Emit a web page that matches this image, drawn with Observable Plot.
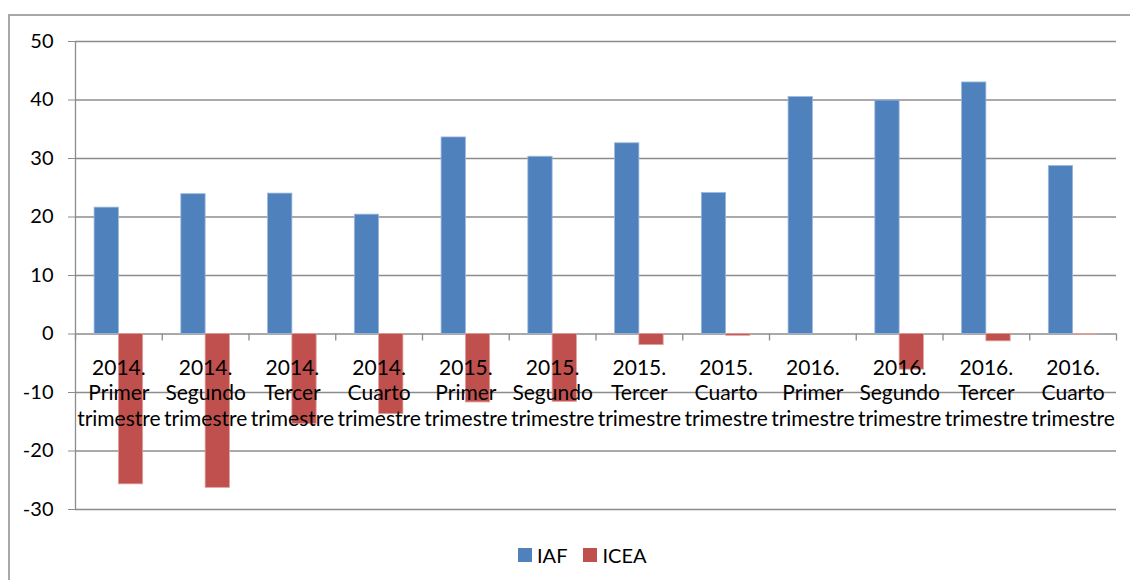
<!DOCTYPE html>
<html>
<head>
<meta charset="utf-8">
<script src="https://cdn.jsdelivr.net/npm/d3@7"></script>
<script src="https://cdn.jsdelivr.net/npm/@observablehq/plot@0.6"></script>
<style>
  body { margin: 0; background: #fff; }
  #wrap { position: relative; width: 1130px; height: 580px; overflow: hidden; font-family: Lato, "Open Sans", sans-serif; }
  #border { position: absolute; left: 8px; top: 14px; width: 1300px; height: 800px; border-top: 2px solid #a8a8a8; border-left: 2px solid #a8a8a8; }
  #chart { position: absolute; left: 0; top: 0; }
  #legend { position: absolute; left: 518px; top: 543px; display: flex; align-items: center; font-size: 20px; color: #000; line-height: 24px; }
  .sw { width: 14px; height: 14px; display: inline-block; margin-right: 5px; }
  .item { display: flex; align-items: center; margin-right: 16px; }
</style>
</head>
<body>
<div id="wrap">
  <div id="border"></div>
  <div id="chart"></div>
  <div id="legend"></div>
</div>
<script>
// ---- data ----
const years = ["2014", "2014", "2014", "2014", "2015", "2015", "2015", "2015", "2016", "2016", "2016", "2016"];
const quarters = ["Primer", "Segundo", "Tercer", "Cuarto", "Primer", "Segundo", "Tercer", "Cuarto", "Primer", "Segundo", "Tercer", "Cuarto"];
const suffix = "trimestre";
const seriesNames = ["IAF", "ICEA"];
const seriesColors = ["#4f81bd", "#c0504d"];
const seriesEdges = ["#9bb7dd", "#e0a09e"];
const iaf  = [21.6, 23.9, 24.0, 20.4, 33.6, 30.3, 32.6, 24.1, 40.5, 39.9, 43.0, 28.7];
const icea = [-25.7, -26.3, -15.4, -13.7, -11.7, -11.6, -1.9, -0.3, 0, -6.1, -1.25, -0.1];
const yTicks = [-30, -20, -10, 0, 10, 20, 30, 40, 50];

// ---- build table ----
const cats = years.map((y, i) => ({i, label: `${y}.\n${quarters[i]}\n${suffix}`}));
const rows = [];
[iaf, icea].forEach((vals, s) => vals.forEach((v, i) => rows.push({i, s, series: seriesNames[s], value: v})));
const barStart = [0.22, 0.5];
const barEnd = [0.5, 0.78];

const grid = "#8c8c8c";
const chart = Plot.plot({
  width: 1130,
  height: 530,
  marginLeft: 75,
  marginRight: 14,
  marginTop: 41,
  marginBottom: 21,
  style: {fontFamily: "Lato, 'Open Sans', sans-serif", fontSize: "20px", color: "#000", background: "transparent"},
  x: {domain: [0, years.length], axis: null},
  y: {domain: [-30, 50], axis: null},
  marks: [
    Plot.ruleY(yTicks, {stroke: grid, strokeWidth: 1.3}),
    Plot.ruleX([0], {stroke: grid, strokeWidth: 1.3}),
    Plot.rectY(rows, {
      x1: d => d.i + barStart[d.s],
      x2: d => d.i + barEnd[d.s],
      y: "value",
      fill: d => seriesColors[d.s],
      stroke: d => seriesEdges[d.s],
      strokeWidth: 0.8
    }),
    Plot.ruleX(d3.range(years.length + 1), {x: d => d, y1: () => 0, y2: () => 0, insetBottom: -7, stroke: grid, strokeWidth: 1.3}),
    Plot.axisY(yTicks, {tickSize: 7, tickPadding: 15, stroke: grid, fill: "#000", fontSize: 20, label: null, tickFormat: d => String(d)}),
    Plot.text(cats, {
      x: d => d.i + 0.5,
      y: () => 0,
      text: "label",
      lineAnchor: "top",
      dy: 22.5,
      fontSize: 21,
      lineHeight: 1.22,
      fill: "#000"
    })
  ]
});
document.getElementById("chart").appendChild(chart);

const legend = document.getElementById("legend");
seriesNames.forEach((name, s) => {
  const item = document.createElement("div");
  item.className = "item";
  const sw = document.createElement("span");
  sw.className = "sw";
  sw.style.background = seriesColors[s];
  item.appendChild(sw);
  const t = document.createElement("span");
  t.textContent = name;
  item.appendChild(t);
  legend.appendChild(item);
});
</script>
</body>
</html>
